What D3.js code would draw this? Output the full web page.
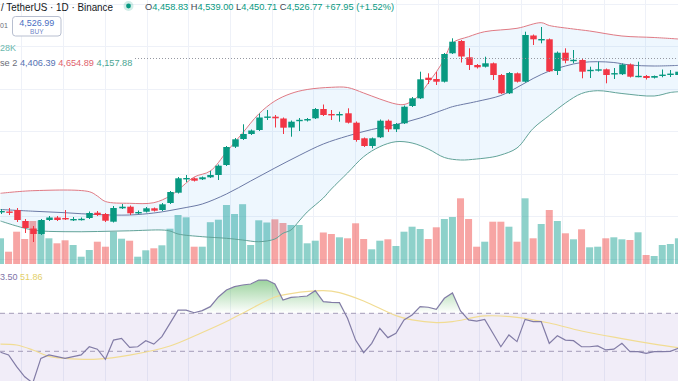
<!DOCTYPE html>
<html><head><meta charset="utf-8">
<script src="https://cdn.jsdelivr.net/npm/d3@7"></script>
<style>html,body{margin:0;padding:0;background:#fff;overflow:hidden}svg{display:block;font-family:"Liberation Sans",Arial,sans-serif}</style>
</head><body><svg id="c" width="678" height="381"></svg>
<script>
// ---- data ----
const opens=[2940,2945,2960,2850,2775,2720,2860,2885,2880,2867,
2867,2880,2933,2920,2843,2977,2993,2935,2943,2977,
2960,3030,3133,3275,3277,3267,3287,3310,3410,3593,
3670,3720,3760,3890,3893,3875,3785,3857,3855,3877,
3970,3920,3917,3927,3833,3677,3600,3687,3853,3767,
3827,4000,4077,4283,4270,4243,4527,4650,4487,4410,
4393,4427,4310,4127,4327,4243,4705,4665,4667,4350,
4533,4457,4460,4358,4353,4367,4325,4318,4415,4298,
4300,4283,4310,4320,4310];
const closes=[2950,2940,2860,2780,2720,2860,2885,2860,2875,2870,
2872,2930,2910,2853,2980,2993,2927,2940,2977,2953,
3017,3140,3277,3280,3253,3287,3310,3403,3590,3667,
3720,3755,3885,3895,3877,3783,3843,3862,3870,3970,
3910,3915,3920,3833,3660,3600,3677,3853,3767,3820,
3993,4077,4267,4260,4243,4520,4643,4495,4410,4387,
4427,4310,4127,4330,4243,4710,4667,4670,4347,4533,
4453,4462,4343,4362,4367,4310,4329,4415,4293,4302,
4280,4300,4314,4324,4343];
const highs=[2970,2980,2980,2870,2800,2870,2900,2900,2960,2890,
2885,2945,2950,2930,3000,3020,3005,2955,2990,2985,
3030,3150,3290,3310,3285,3295,3353,3415,3600,3680,
3817,3765,3925,3960,3910,3885,3855,3880,3880,3980,
4015,3960,3943,3977,3845,3685,3685,3865,3865,3830,
4005,4090,4343,4327,4340,4530,4677,4660,4577,4420,
4493,4435,4320,4340,4335,4743,4715,4790,4675,4545,
4577,4560,4470,4393,4443,4375,4380,4425,4425,4443,
4310,4305,4365,4360,4360];
const lows=[2920,2910,2840,2730,2640,2710,2850,2850,2860,2850,
2855,2870,2900,2840,2835,2970,2910,2920,2935,2945,
2950,3020,3125,3240,3245,3260,3280,3260,3400,3580,
3660,3710,3750,3860,3785,3720,3693,3750,3845,3870,
3900,3860,3843,3825,3643,3590,3577,3680,3740,3740,
3820,3990,4070,4220,4210,4235,4520,4435,4360,4375,
4385,4260,4120,4120,4235,4235,4610,4627,4340,4310,
4427,4427,4277,4280,4345,4227,4270,4310,4285,4287,
4265,4275,4287,4290,4300];
const volumes=[514,246,646,500,860,870,514,414,474,380,
146,280,446,346,646,506,466,146,274,314,
374,706,980,934,346,346,836,886,1180,1000,
1196,380,874,830,894,820,780,780,414,466,
630,600,534,514,814,500,294,466,494,360,
646,746,700,500,734,900,940,1314,900,346,
446,846,846,746,446,1314,514,800,1080,860,
614,494,694,334,346,514,534,494,480,634,
180,160,380,400,514];
const rsiValues=[49.5,48.1,41.9,36.6,33.3,46.3,48.1,47.2,46.3,47.2,
48.1,52.4,51.1,45.8,55.9,56.8,52.1,52.4,55.6,53.8,
57.7,64.7,71.7,71.7,70.3,71.4,73.5,78.6,82.3,84.0,
84.9,85.4,87.5,87.5,85.4,77.0,78.4,78.7,79.1,81.9,
76.1,75.8,75.6,67.4,55.9,49.3,54.2,62.1,57.2,59.5,
66.5,69.1,73.5,73.2,72.1,77.9,80.7,71.2,66.5,65.9,
66.8,59.6,52.4,58.6,55.1,66.8,65.6,65.6,54.2,58.2,
55.9,55.6,52.4,52.4,52.8,50.7,51.1,54.2,49.8,49.8,
48.9,49.8,49.8,50.0,51.6];
const rsiMaIdx=[0,2,4,6,8,12,16,21,25,28,31,34,36,40,42,45,49,51,54,56,60,64,68,72,77,81,84];
const rsiMaVal=[53.8,53.3,50.7,47.3,46.3,45.9,48.0,52.8,59.9,65.7,72.3,78.6,80.4,81.9,80.9,76.5,68.8,66.5,65.1,65.6,68.6,67.9,64.9,60.7,56.7,53.8,51.9];
const bbUpperIdx=[0,4,11,12,13,16,19,21,22,24,26,28,30,32,34,36,38,41,43,45,47,49,50,51,52,53,54,55,56,58,60,64,67,68,71,73,77,81,84];
const bbUpperVal=[3127,3153,3143,3100,3045,3027,3033,3100,3160,3290,3350,3540,3730,3920,4050,4125,4165,4187,4185,4130,4070,4020,4015,4050,4120,4230,4340,4470,4630,4693,4743,4777,4833,4805,4770,4750,4700,4685,4670];
const bbBasisIdx=[0,4,8,12,16,19,21,23,25,28,31,34,37,40,43,46,49,52,55,56,59,62,64,66,68,70,72,74,76,78,81,84];
const bbBasisVal=[2965,2948,2933,2914,2910,2930,2955,2985,3020,3120,3250,3380,3505,3620,3700,3765,3815,3880,3965,3993,4045,4105,4185,4275,4350,4400,4435,4443,4435,4410,4400,4406];
const bbLowerIdx=[0,4,8,12,16,20,21,22,25,28,30,32,34,35,36,37,38,39,40,41,43,45,47,49,51,53,55,57,59,61,62,64,66,68,70,72,74,77,81,83,84];
const bbLowerVal=[2850,2760,2743,2745,2752,2760,2750,2720,2693,2677,2660,2643,2670,2727,2760,2850,2940,3010,3080,3170,3330,3493,3593,3643,3630,3570,3485,3460,3470,3490,3510,3580,3775,3905,4030,4125,4153,4125,4100,4135,4143];
const gridPrices=[5025,4600,4175,3750,3325,2900,2475];
const gridIdx=[2.6,7.8,12.9,18.1,23.2,28.4,33.6,38.7,43.9,49.0,54.2,59.3,64.5,69.6,74.8,79.9];
const rsiLevels=[70,50];
const priceLine=4475;

// ---- scales ----
const W=678,H=381;
const x=d3.scaleLinear().domain([0,84]).range([0.5,678.4]);
const y=d3.scaleLinear().domain([1250,5060]).range([381,0]);
const yv=d3.scaleLinear().domain([0,2000]).range([264,164]);
const yr=d3.scaleLinear().domain([30,70]).range([389.3,313.3]);
const UP='#089981',DN='#f23645';
const svg=d3.select('#c');
const defs=svg.append('defs');

// grid
svg.append('g').selectAll('line').data(gridIdx).join('line')
 .attr('x1',d=>Math.round(x(d))+0.5).attr('x2',d=>Math.round(x(d))+0.5).attr('y1',0).attr('y2',H)
 .attr('stroke','#eef1f8').attr('stroke-width',1);
svg.append('g').selectAll('line').data(gridPrices).join('line')
 .attr('x1',0).attr('x2',W).attr('y1',d=>Math.round(y(d))+0.5).attr('y2',d=>Math.round(y(d))+0.5)
 .attr('stroke','#eef1f8').attr('stroke-width',1);

// RSI background band
svg.append('rect').attr('x',0).attr('width',W).attr('y',yr(70)).attr('height',yr(30)-yr(70))
 .attr('fill','rgba(126,87,194,0.11)');

// volume
const idx=d3.range(opens.length);
svg.append('g').selectAll('rect').data(idx).join('rect')
 .attr('x',i=>x(i)-3.5).attr('width',7)
 .attr('y',i=>yv(volumes[i])).attr('height',i=>yv(0)-yv(volumes[i]))
 .attr('fill',i=>closes[i]>=opens[i]?'rgba(38,166,154,0.52)':'rgba(239,83,80,0.52)');

// Bollinger bands
const cr=d3.line().x(d=>x(d[0])).y(d=>y(d[1])).curve(d3.curveCatmullRom.alpha(0.5));
const upPts=bbUpperIdx.map((i,k)=>[i,bbUpperVal[k]]);
const baPts=bbBasisIdx.map((i,k)=>[i,bbBasisVal[k]]);
const loPts=bbLowerIdx.map((i,k)=>[i,bbLowerVal[k]]);
const fillPath=cr(upPts)+'L'+cr(loPts.slice().reverse()).slice(1)+'Z';
svg.append('path').attr('d',fillPath).attr('fill','rgba(33,150,243,0.08)');
svg.append('path').attr('d',cr(upPts)).attr('fill','none').attr('stroke','#e07a84').attr('stroke-width',1);
svg.append('path').attr('d',cr(baPts)).attr('fill','none').attr('stroke','#6c7aa6').attr('stroke-width',1);
svg.append('path').attr('d',cr(loPts)).attr('fill','none').attr('stroke','#62a399').attr('stroke-width',1);

// candles
const cg=svg.append('g');
cg.selectAll('line').data(idx).join('line')
 .attr('x1',i=>Math.round(x(i))+0.5).attr('x2',i=>Math.round(x(i))+0.5)
 .attr('y1',i=>y(highs[i])).attr('y2',i=>y(lows[i]))
 .attr('stroke',i=>closes[i]>=opens[i]?UP:DN).attr('stroke-width',1);
cg.selectAll('rect').data(idx).join('rect')
 .attr('x',i=>Math.round(x(i))-2.75).attr('width',6.5)
 .attr('y',i=>y(Math.max(opens[i],closes[i])))
 .attr('height',i=>Math.max(1.4,Math.abs(y(opens[i])-y(closes[i]))))
 .attr('fill',i=>closes[i]>=opens[i]?UP:DN);

// price line
svg.append('line').attr('x1',135).attr('x2',W).attr('y1',Math.round(y(priceLine))+0.5).attr('y2',Math.round(y(priceLine))+0.5)
 .attr('stroke','#9598a1').attr('stroke-width',1).attr('stroke-dasharray','1,2');

// RSI levels
svg.append('g').selectAll('line').data(rsiLevels).join('line')
 .attr('x1',0).attr('x2',W).attr('y1',d=>yr(d)).attr('y2',d=>yr(d))
 .attr('stroke','#a49bb8').attr('stroke-width',1).attr('stroke-dasharray','5,4');

// overbought gradient fill
const grad=defs.append('linearGradient').attr('id','ob').attr('gradientUnits','userSpaceOnUse')
 .attr('x1',0).attr('x2',0).attr('y1',yr(100)).attr('y2',yr(70));
grad.append('stop').attr('offset','0%').attr('stop-color','rgb(76,175,80)').attr('stop-opacity',0.95);
grad.append('stop').attr('offset','100%').attr('stop-color','rgb(76,175,80)').attr('stop-opacity',0);
defs.append('clipPath').attr('id','obclip').append('rect').attr('x',0).attr('y',0).attr('width',W).attr('height',yr(70));
const rsiArea=d3.area().x(i=>x(i)).y0(yr(70)).y1(i=>yr(rsiValues[i]));
svg.append('path').attr('d',rsiArea(idx)).attr('fill','url(#ob)').attr('clip-path','url(#obclip)');

// RSI MA and RSI
const maLine=d3.line().x(d=>x(d[0])).y(d=>yr(d[1])).curve(d3.curveCatmullRom.alpha(0.5));
svg.append('path').attr('d',maLine(rsiMaIdx.map((i,k)=>[i,rsiMaVal[k]]))).attr('fill','none')
 .attr('stroke','#f1dc93').attr('stroke-width',1.2);
const rLine=d3.line().x(i=>x(i)).y(i=>yr(rsiValues[i]));
svg.append('path').attr('d',rLine(idx)).attr('fill','none').attr('stroke','#827ca6').attr('stroke-width',1.2);

// ---- legends ----
svg.append('text').attr('x',1).attr('y',10.5).attr('font-size',11.5).attr('fill','#131722')
 .attr('textLength',112).attr('lengthAdjust','spacingAndGlyphs').text('/ TetherUS · 1D · Binance');
svg.append('circle').attr('cx',128.5).attr('cy',6).attr('r',5).attr('fill','rgba(8,153,129,0.18)');
svg.append('circle').attr('cx',128.5).attr('cy',6).attr('r',2.4).attr('fill',UP);
const ohlc=svg.append('text').attr('x',145).attr('y',10).attr('font-size',9.5)
 .attr('textLength',249).attr('lengthAdjust','spacingAndGlyphs');
[['O','#434651'],['4,458.83 ',UP],['H','#434651'],['4,539.00 ',UP],['L','#434651'],['4,450.71 ',UP],['C','#434651'],['4,526.77 ',UP],['+67.95 (+1.52%)',UP]]
 .forEach(([t,c])=>ohlc.append('tspan').attr('fill',c).text(t));

svg.append('text').attr('x',0).attr('y',27.5).attr('font-size',7).attr('fill','#6a6d78').text('01');
svg.append('rect').attr('x',12.5).attr('y',16.5).attr('width',48.5).attr('height',19.5).attr('rx',3)
 .attr('fill','#fff').attr('stroke','#b8bfd0').attr('stroke-width',1);
svg.append('text').attr('x',36.8).attr('y',26).attr('text-anchor','middle').attr('font-size',9).attr('fill','#4a6fc3').text('4,526.99');
svg.append('text').attr('x',36.8).attr('y',33.5).attr('text-anchor','middle').attr('font-size',6.5).attr('fill','#6f86c6').text('BUY');
svg.append('text').attr('x',0).attr('y',50.8).attr('font-size',9).attr('fill','#6cb8ae').text('28K');

const bbl=svg.append('text').attr('x',0).attr('y',66).attr('font-size',9)
 .attr('textLength',132.3).attr('lengthAdjust','spacingAndGlyphs');
[['se 2 ','#6a6d78'],['4,406.39 ','#5572b3'],['4,654.89 ','#e0626c'],['4,157.88','#4aa592']]
 .forEach(([t,c])=>bbl.append('tspan').attr('fill',c).text(t));

const rl=svg.append('text').attr('x',0).attr('y',280).attr('font-size',9);
rl.append('tspan').attr('fill','#7e73a8').text('3.50 ');
rl.append('tspan').attr('fill','#e3cf6a').text('51.86');
</script></body></html>
